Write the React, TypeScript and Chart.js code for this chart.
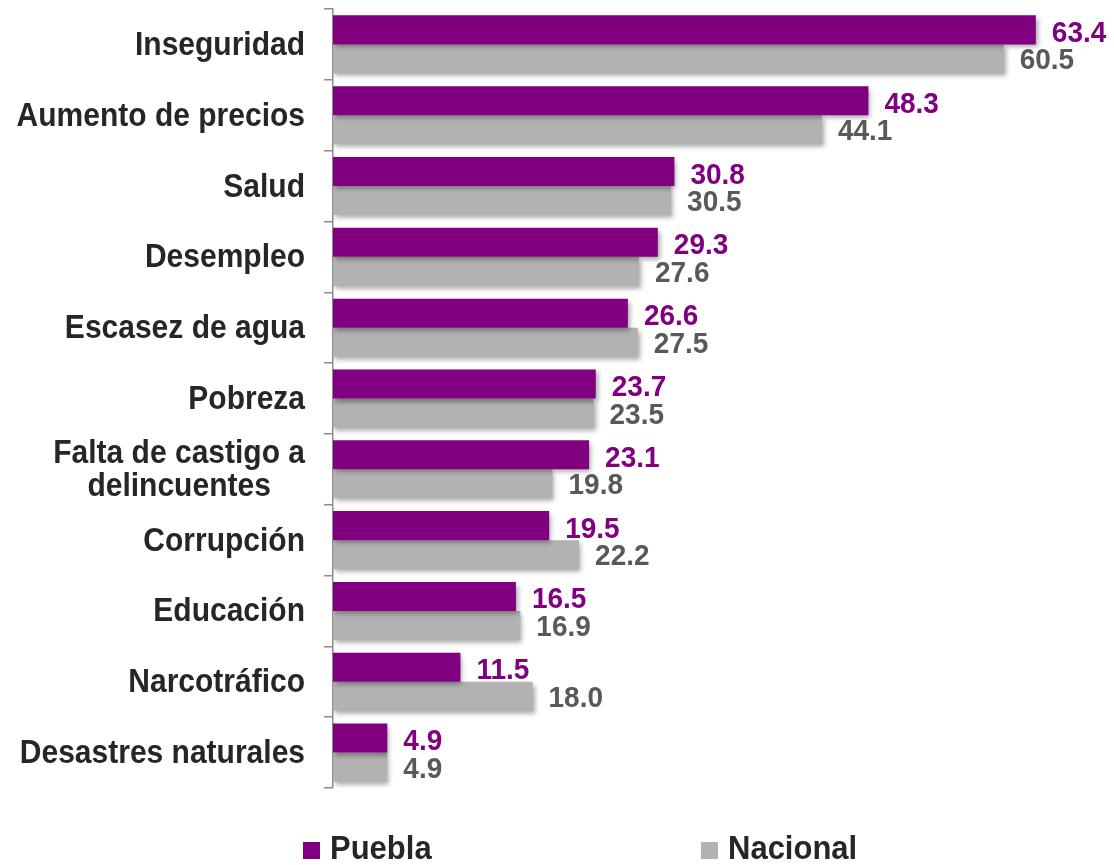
import React, { useEffect, useRef } from "react";
import { Chart, registerables } from "chart.js";

Chart.register(...registerables);

const categories: (string | string[])[] = [
  "Inseguridad",
  "Aumento de precios",
  "Salud",
  "Desempleo",
  "Escasez de agua",
  "Pobreza",
  ["Falta de castigo a", "delincuentes"],
  "Corrupción",
  "Educación",
  "Narcotráfico",
  "Desastres naturales",
];

const pueblaValues = [63.4, 48.3, 30.8, 29.3, 26.6, 23.7, 23.1, 19.5, 16.5, 11.5, 4.9];
const nacionalValues = [60.5, 44.1, 30.5, 27.6, 27.5, 23.5, 19.8, 22.2, 16.9, 18.0, 4.9];

const seriesNames = ["Puebla", "Nacional"];
const barColors = ["#800080", "#b2b2b2"];
const valueLabelColors = ["#800080", "#595959"];

const W = 1114;
const H = 865;
const FONT = "'Liberation Sans', Arial, Helvetica, sans-serif";
const STRETCH = 1.08;

function drawText(ctx: CanvasRenderingContext2D, text: string, x: number, y: number) {
  ctx.save();
  ctx.translate(x, y);
  ctx.scale(1, STRETCH);
  ctx.fillText(text, 0, 0);
  ctx.restore();
}

const shadowPlugin = {
  id: "barShadow",
  beforeDatasetsDraw(chart: any) {
    const ctx = chart.ctx;
    ctx.save();
    ctx.shadowColor = "rgba(0,0,0,0.35)";
    ctx.shadowBlur = 5;
    ctx.shadowOffsetX = 2;
    ctx.shadowOffsetY = 3;
  },
  afterDatasetsDraw(chart: any) {
    chart.ctx.restore();
  },
};

const labelsPlugin = {
  id: "customLabels",
  afterDraw(chart: any) {
    const ctx = chart.ctx;
    const yScale = chart.scales.y;
    ctx.save();
    // value labels
    ctx.font = `bold 28px ${FONT}`;
    ctx.textAlign = "left";
    ctx.textBaseline = "alphabetic";
    chart.data.datasets.forEach((ds: any, di: number) => {
      const meta = chart.getDatasetMeta(di);
      meta.data.forEach((bar: any, i: number) => {
        ctx.fillStyle = valueLabelColors[di];
        const yOff = di === 0 ? 12 : 10.5;
        drawText(ctx, Number(ds.data[i]).toFixed(1), bar.x + 16, bar.y + yOff);
      });
    });
    // category labels
    ctx.font = `bold 30px ${FONT}`;
    ctx.fillStyle = "#262626";
    const rightEdge = yScale.left - 19;
    categories.forEach((cat, i) => {
      const lines = Array.isArray(cat) ? cat : [cat];
      const cy = yScale.getPixelForValue(i);
      const maxW = Math.max(...lines.map((l) => ctx.measureText(l).width));
      const lh = 33;
      const centerX = rightEdge - maxW / 2;
      ctx.textAlign = "center";
      lines.forEach((l, li) => {
        const lineCy = cy + (li - (lines.length - 1) / 2) * lh;
        drawText(ctx, l, centerX, lineCy + 10.5);
      });
    });
    // legend
    const legendX = [303, 701];
    ctx.font = `bold 31px ${FONT}`;
    ctx.textAlign = "left";
    seriesNames.forEach((name, i) => {
      ctx.fillStyle = barColors[i];
      ctx.fillRect(legendX[i], 842, 17, 17);
      ctx.fillStyle = "#262626";
      drawText(ctx, name, legendX[i] + 27, 859);
    });
    ctx.restore();
  },
};

export default function App() {
  const canvasRef = useRef<HTMLCanvasElement | null>(null);

  useEffect(() => {
    if (!canvasRef.current) return;
    const chart = new Chart(canvasRef.current, {
      type: "bar",
      data: {
        labels: categories as any,
        datasets: seriesNames.map((name, i) => ({
          label: name,
          data: i === 0 ? pueblaValues : nacionalValues,
          backgroundColor: barColors[i],
          borderWidth: 0,
          categoryPercentage: 0.82,
          barPercentage: 1.0,
        })),
      },
      options: {
        indexAxis: "y",
        responsive: false,
        animation: false,
        devicePixelRatio: 1,
        layout: { padding: { left: 324, right: 5, top: 9, bottom: 77 } },
        plugins: {
          legend: { display: false },
          tooltip: { enabled: false },
        },
        scales: {
          x: { display: false, min: 0, max: 70 },
          y: {
            display: true,
            ticks: { display: false },
            grid: {
              offset: true,
              drawOnChartArea: false,
              drawTicks: true,
              tickLength: 9,
              color: "#8c8c8c",
              lineWidth: 1.5,
            },
            border: { display: true, color: "#8c8c8c", width: 1.5 },
          },
        },
      },
      plugins: [shadowPlugin, labelsPlugin],
    });
    return () => chart.destroy();
  }, []);

  return (
    <div style={{ position: "fixed", left: 0, top: 0, width: W, height: H, background: "#fff" }}>
      <canvas ref={canvasRef} width={W} height={H} style={{ display: "block" }} />
    </div>
  );
}
